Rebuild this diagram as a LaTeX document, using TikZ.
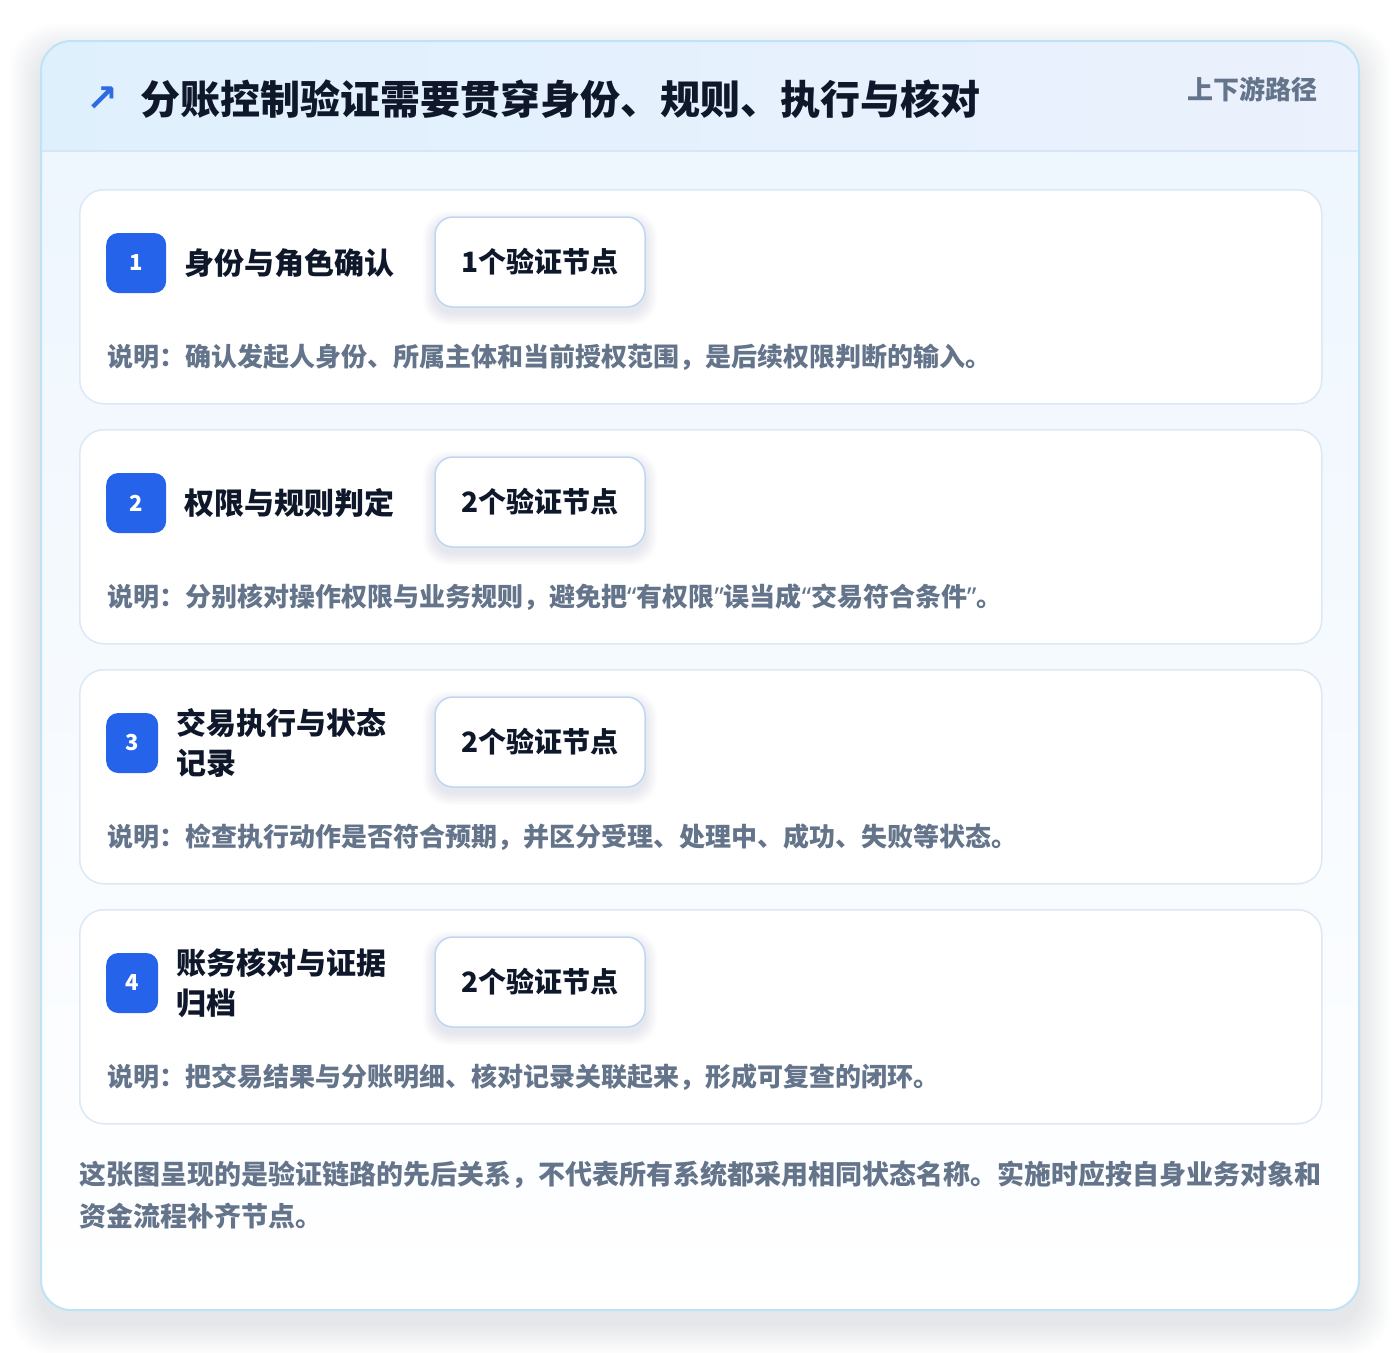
\documentclass[tikz,border=0pt]{standalone}
\usepackage{fontspec}
\setmainfont{Noto Sans CJK SC}
\newfontfamily\symfont{DejaVu Sans}
\newfontfamily\quotefont{Noto Sans}
\usetikzlibrary{positioning}

\definecolor{inkdark}{HTML}{0F172A}
\definecolor{inkgray}{HTML}{64748B}
\definecolor{badgeblue}{HTML}{2563EB}
\definecolor{arrowblue}{HTML}{2F6BE0}
\definecolor{cardline}{HTML}{DCE8F6}
\definecolor{pillline}{HTML}{BFD6F3}
\definecolor{frameline}{HTML}{BEE3F6}
\definecolor{headline}{HTML}{D6E6F8}
\definecolor{headleft}{HTML}{DFF0FD}
\definecolor{headright}{HTML}{EBF1FD}
\definecolor{bodytop}{HTML}{EEF6FE}
\definecolor{shadowgray}{HTML}{334155}

\newcommand{\openq}{{\quotefont\bfseries “}}
\newcommand{\closeq}{{\quotefont\bfseries ”}}

\tikzset{
  stepcard/.style={draw=cardline, line width=1.5pt, fill=white, rounded corners=24pt,
    minimum width=1242pt, minimum height=214pt, anchor=north west, inner sep=0pt},
  badge/.style={fill=badgeblue, rounded corners=12pt, text=white, inner sep=0pt,
    font=\bfseries\fontsize{22}{22}\selectfont, minimum height=60pt, anchor=west},
  steptitle/.style={anchor=west, text=inkdark, align=left, inner sep=0pt,
    font=\bfseries\fontsize{30}{40}\selectfont},
  pill/.style={draw=pillline, line width=1.5pt, fill=white, rounded corners=18pt,
    minimum width=210pt, minimum height=90pt, text=inkdark,
    font=\bfseries\fontsize{28}{28}\selectfont},
  desc/.style={anchor=west, text=inkgray, inner sep=0pt,
    font=\bfseries\fontsize{26}{26}\selectfont},
  softshade/.style={fill=shadowgray, opacity=#1},
}

\begin{document}
\begin{tikzpicture}[x=1pt,y=1pt]
\useasboundingbox (0,0) rectangle (1400,-1352);

% outer panel with soft shadow
\foreach \k in {1,...,16}
  \fill[softshade=0.007, rounded corners=30pt+\k pt]
    (41-\k*2,-41+\k*2-14) rectangle (1359+\k*2,-1310-\k*2-14);
\fill[white, rounded corners=30pt] (41,-41) rectangle (1359,-1310);
\begin{scope}
  \clip[rounded corners=30pt] (41,-41) rectangle (1359,-1310);
  \shade[top color=bodytop, bottom color=white] (41,-151) rectangle (1359,-1310);
  \shade[left color=headleft, right color=headright] (41,-41) rectangle (1359,-151);
  \draw[headline, line width=1.5pt] (41,-151) -- (1359,-151);
\end{scope}
\draw[frameline, line width=2pt, rounded corners=30pt] (41,-41) rectangle (1359,-1310);

% header
\node[text=arrowblue, font=\symfont\bfseries\fontsize{38}{38}\selectfont, inner sep=0pt] (icon) at (102,-99) {↗};
\node[anchor=west, text=inkdark, font=\bfseries\fontsize{40}{40}\selectfont, inner sep=0pt]
  (title) at (140,-99) {分账控制验证需要贯穿身份、规则、执行与核对};
\node[anchor=east, text=inkgray, font=\bfseries\fontsize{26}{26}\selectfont, inner sep=0pt]
  (route) at (1318,-89) {上下游路径};

% steps
\foreach \i/\bw/\ttl/\cnt/\txt in {
  1/60/{身份与角色确认}/{1个验证节点}/{说明：确认发起人身份、所属主体和当前授权范围，是后续权限判断的输入。},
  2/60/{权限与规则判定}/{2个验证节点}/{说明：分别核对操作权限与业务规则，避免把\openq 有权限\closeq 误当成\openq 交易符合条件\closeq 。},
  3/52/{交易执行与状态\\记录}/{2个验证节点}/{说明：检查执行动作是否符合预期，并区分受理、处理中、成功、失败等状态。},
  4/52/{账务核对与证据\\归档}/{2个验证节点}/{说明：把交易结果与分账明细、核对记录关联起来，形成可复查的闭环。}}
{
  \pgfmathsetmacro\ytop{-189-240*(\i-1)}
  \node[stepcard] (card\i) at (79,\ytop) {};
  \node[badge, minimum width=\bw pt] (badge\i) at (106,\ytop-74) {\i};
  \node[steptitle, right=18pt of badge\i] (title\i) {\ttl};
  \foreach \k in {1,...,8}
    \fill[softshade=0.012, rounded corners=18pt+\k pt]
      (435-\k*1.5,\ytop-28+\k*1.5-6) rectangle (645+\k*1.5,\ytop-118-\k*1.5-6);
  \node[pill] (pill\i) at (540,\ytop-73) {\cnt};
  \node[desc] (desc\i) at (107,\ytop-168) {\txt};
}

% footnote
\node[anchor=north west, text=inkgray, align=left, inner sep=0pt,
  font=\bfseries\fontsize{27}{42}\selectfont] (note) at (79,-1161)
  {这张图呈现的是验证链路的先后关系，不代表所有系统都采用相同状态名称。实施时应按自身业务对象和\\资金流程补齐节点。};
\end{tikzpicture}
\end{document}
